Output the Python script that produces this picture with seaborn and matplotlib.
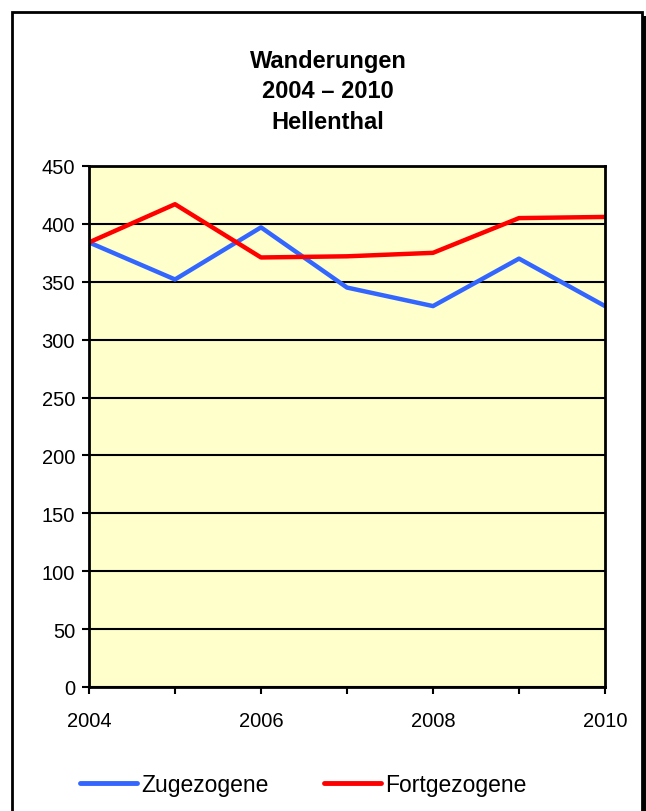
import matplotlib
matplotlib.use("Agg")
import matplotlib.pyplot as plt
from matplotlib.patches import Rectangle
from matplotlib.lines import Line2D
import pandas as pd
import seaborn as sns

years = [2004, 2005, 2006, 2007, 2008, 2009, 2010]
zugezogene = [384, 352, 397, 345, 329, 370, 329]
fortgezogene = [384, 417, 371, 372, 375, 405, 406]
series_names = ["Zugezogene", "Fortgezogene"]
series_colors = ["#3366FF", "#FF0000"]
title_text = "Wanderungen\n2004 – 2010\nHellenthal"

df = pd.DataFrame({
    "Jahr": years * 2,
    "Wert": zugezogene + fortgezogene,
    "Serie": [series_names[0]] * len(years) + [series_names[1]] * len(years),
})

sns.set_style("white")
plt.rcParams["font.family"] = ["Liberation Sans", "DejaVu Sans"]
plt.rcParams["text.color"] = "black"
plt.rcParams["xtick.color"] = "black"
plt.rcParams["ytick.color"] = "black"

fig = plt.figure(figsize=(6.46, 8.12), dpi=100)
ax = fig.add_axes([89 / 646, 1 - 688 / 812, 516 / 646, 521 / 812])
ax.set_facecolor("#FFFFCC")

sns.lineplot(data=df, x="Jahr", y="Wert", hue="Serie", palette=series_colors,
             linewidth=3.2, ax=ax, legend=False, zorder=3)

ax.set_xlim(2004, 2010)
ax.set_ylim(0, 450)
ax.set_xticks([2004, 2006, 2008, 2010])
ax.set_xticks(years, minor=True)
ax.set_yticks(range(0, 451, 50))
ax.tick_params(axis="both", which="both", direction="out", length=5, width=1.5,
               color="black", labelcolor="black", labelsize=14.5, pad=5,
               bottom=True, left=True)
ax.tick_params(axis="x", pad=12)
ax.set_xlabel("")
ax.set_ylabel("")
ax.grid(axis="y", color="black", linewidth=1.5, zorder=1)
ax.set_axisbelow(True)
for sp in ax.spines.values():
    sp.set_color("black")
    sp.set_linewidth(2)
    sp.set_zorder(4)

# outer chart frame with shadow, behind the axes
fig.patches.append(Rectangle((15 / 646, -0.02), 631 / 646, 1 - 17 / 812 + 0.02,
                             transform=fig.transFigure, facecolor="black",
                             edgecolor="none", zorder=-2))
fig.patches.append(Rectangle((11.5 / 646, -0.02), 630 / 646, 1 - 12.5 / 812 + 0.02,
                             transform=fig.transFigure, facecolor="white",
                             edgecolor="black", linewidth=2, zorder=-1))

fig.text(328 / 646, 1 - 92 / 812, title_text, ha="center", va="center",
         fontsize=17, fontweight="bold", linespacing=1.42)

handles = [Line2D([], [], color=c, linewidth=3.5) for c in series_colors]
fig.legend(handles, series_names, loc="center", bbox_to_anchor=(303 / 646, 1 - 786 / 812),
           ncol=2, frameon=False, fontsize=16.5, handlelength=2.5, handletextpad=0.18,
           columnspacing=2.4)

fig.savefig("out.png", dpi=100)
